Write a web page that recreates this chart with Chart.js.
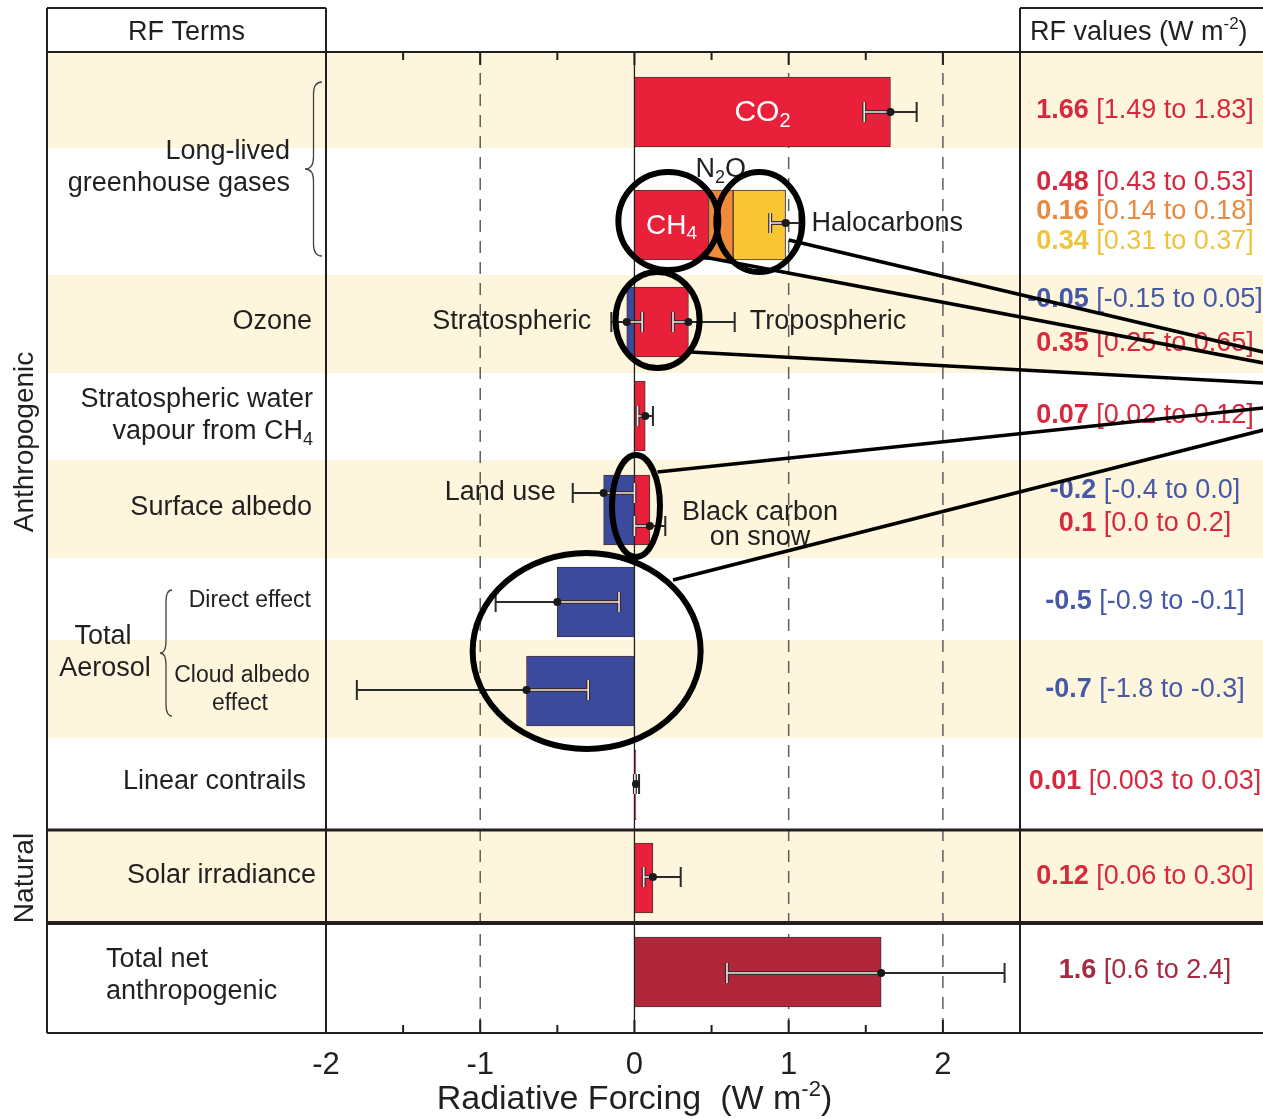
<!DOCTYPE html>
<html lang="en">
<head>
  <meta charset="UTF-8" />
  <title>Radiative Forcing Components</title>
  <script src="https://cdn.jsdelivr.net/npm/chart.js"></script>
  <style>
    body { margin: 0; padding: 0; background: #ffffff; overflow: hidden; }
    canvas { display: block; }
  </style>
</head>
<body>
  <canvas id="rfChart" width="1263" height="1119"></canvas>

  <script>
    const FF = "'Liberation Sans', Arial, Helvetica, sans-serif";
    const INK = '#231f20';

    // bars (row positions are in plot rows, 1 unit = 10px of the 981px plot)
    const barTerms = ['CO2', 'CH4', 'N2O', 'Halocarbons', 'Stratospheric ozone', 'Tropospheric ozone',
      'Stratospheric water vapour', 'Land use', 'Black carbon on snow', 'Direct effect',
      'Cloud albedo effect', 'Linear contrails', 'Solar irradiance', 'Total net anthropogenic'];
    const barRow   = [6.0, 17.3, 17.3, 17.3, 27.0, 27.0, 36.4, 45.8, 45.8, 55.0, 63.9, 73.3, 82.6, 92.0];
    const barBase  = [0, 0, 0.48, 0.64, 0, 0, 0, 0, 0, 0, 0, 0, 0, 0];
    const barValue = [1.66, 0.48, 0.16, 0.34, -0.05, 0.35, 0.07, -0.2, 0.1, -0.5, -0.7, 0.01, 0.12, 1.6];
    const barColor = ['#e8203a', '#e8203a', '#f08a3b', '#f8c533', '#3c4a9e', '#e8203a', '#e8203a',
      '#3c4a9e', '#e8203a', '#3c4a9e', '#3c4a9e', '#e8203a', '#e8203a', '#b0263a'];

    // uncertainty ranges
    const errRow  = [6.0, 17.1, 27.0, 27.0, 36.4, 44.1, 47.4, 55.0, 63.8, 73.2, 82.5, 92.1];
    const errMid  = [1.66, 0.98, -0.05, 0.35, 0.07, -0.2, 0.1, -0.5, -0.7, 0.01, 0.12, 1.6];
    const errLow  = [1.49, 0.88, -0.15, 0.25, 0.02, -0.4, 0.0, -0.9, -1.8, 0.003, 0.06, 0.6];
    const errHigh = [1.83, 1.07, 0.05, 0.65, 0.12, 0.0, 0.2, -0.1, -0.3, 0.03, 0.30, 2.4];

    // RF values column
    const rfValue = ['1.66', '0.48', '0.16', '0.34', '-0.05', '0.35', '0.07', '-0.2', '0.1', '-0.5', '-0.7', '0.01', '0.12', '1.6'];
    const rfRange = ['[1.49 to 1.83]', '[0.43 to 0.53]', '[0.14 to 0.18]', '[0.31 to 0.37]', '[-0.15 to 0.05]',
      '[0.25 to 0.65]', '[0.02 to 0.12]', '[-0.4 to 0.0]', '[0.0 to 0.2]', '[-0.9 to -0.1]', '[-1.8 to -0.3]',
      '[0.003 to 0.03]', '[0.06 to 0.30]', '[0.6 to 2.4]'];
    const rfRow   = [5.9, 13.1, 16.0, 19.0, 24.8, 29.2, 36.4, 43.9, 47.2, 55.0, 63.8, 73.0, 82.5, 91.9];
    const rfColor = ['#d8283e', '#d8283e', '#e8893f', '#eec43a', '#4759a6', '#d8283e', '#d8283e',
      '#4759a6', '#d8283e', '#4759a6', '#4759a6', '#d8283e', '#d8283e', '#a62a40'];

    const beigeBands = [[0, 9.6], [22.3, 32.1], [40.8, 50.6], [58.8, 68.6], [77.8, 87.1]];
    const sectionLines = [77.8, 87.1];

    // hand-drawn highlight circles and pointer lines
    const circles = [
      { x: 0.22, y: 16.9, rx: 50, ry: 49 },
      { x: 0.81, y: 17.0, rx: 43, ry: 50 },
      { x: 0.15, y: 26.8, rx: 42, ry: 48 },
      { x: 0.01, y: 45.4, rx: 24, ry: 51 },
      { x: -0.31, y: 59.9, rx: 114, ry: 98 }
    ];
    const pointers = [
      [1.0, 18.8, 4.08, 30.0],
      [0.45, 20.5, 4.08, 31.1],
      [0.36, 30.0, 4.08, 33.1],
      [0.15, 42.0, 4.08, 35.6],
      [0.25, 52.8, 4.08, 37.8]
    ];

    function rich(ctx, parts, x, y, align) {
      let w = 0;
      parts.forEach(p => {
        ctx.font = (p.weight || 'normal') + ' ' + p.size + 'px ' + FF;
        p.w = ctx.measureText(p.t).width;
        w += p.w;
      });
      let cx = align === 'center' ? x - w / 2 : align === 'right' ? x - w : x;
      ctx.textAlign = 'left';
      ctx.textBaseline = 'middle';
      parts.forEach(p => {
        ctx.font = (p.weight || 'normal') + ' ' + p.size + 'px ' + FF;
        ctx.fillStyle = p.color || INK;
        ctx.fillText(p.t, cx, y + (p.dy || 0));
        cx += p.w;
      });
    }

    function text(ctx, t, x, y, align, size) {
      rich(ctx, [{ t: t, size: size || 27 }], x, y, align);
    }

    function brace(ctx, x, y1, y2, w) {
      const ym = (y1 + y2) / 2, m = x + w / 2, r = Math.min(w, 12);
      ctx.beginPath();
      ctx.moveTo(x + w, y1);
      ctx.quadraticCurveTo(m, y1, m, y1 + r);
      ctx.lineTo(m, ym - r);
      ctx.quadraticCurveTo(m, ym, x, ym);
      ctx.quadraticCurveTo(m, ym, m, ym + r);
      ctx.lineTo(m, y2 - r);
      ctx.quadraticCurveTo(m, y2, x + w, y2);
      ctx.strokeStyle = '#444';
      ctx.lineWidth = 1.3;
      ctx.stroke();
    }

    const panelPlugin = {
      id: 'panels',
      beforeDraw(chart) {
        const { ctx, scales: { y } } = chart;
        ctx.save();
        ctx.fillStyle = '#ffffff';
        ctx.fillRect(0, 0, chart.width, chart.height);
        ctx.fillStyle = '#fdf6dc';
        beigeBands.forEach(b => {
          const t = y.getPixelForValue(b[0]), btm = y.getPixelForValue(b[1]);
          ctx.fillRect(47, t, chart.width - 47, btm - t);
        });
        ctx.restore();
      },
      beforeDatasetsDraw(chart) {
        const { ctx, chartArea: a, scales: { x } } = chart;
        ctx.save();
        ctx.strokeStyle = '#5e5e5e';
        ctx.lineWidth = 1.5;
        ctx.setLineDash([12, 9]);
        [-1, 1, 2].forEach(v => {
          const px = x.getPixelForValue(v);
          ctx.beginPath();
          ctx.moveTo(px, a.top);
          ctx.lineTo(px, a.bottom);
          ctx.stroke();
        });
        ctx.restore();
      },
      afterDatasetsDraw(chart) {
        const { ctx, chartArea: a, scales: { x, y } } = chart;
        const W = chart.width;
        const bx = v => x.getPixelForValue(v);
        const by = v => y.getPixelForValue(v);
        ctx.save();

        // zero line
        ctx.strokeStyle = INK;
        ctx.lineWidth = 1.3;
        ctx.beginPath();
        ctx.moveTo(bx(0), a.top);
        ctx.lineTo(bx(0), a.bottom);
        ctx.stroke();

        // error bars
        const cap = 10;
        errRow.forEach((row, i) => {
          const py = by(row);
          const lo = errLow[i], hi = errHigh[i];
          const xl = bx(lo), xh = bx(hi), xm = bx(errMid[i]);
          ctx.strokeStyle = '#2a2a2a';
          ctx.lineWidth = 2;
          ctx.beginPath();
          ctx.moveTo(xl, py); ctx.lineTo(xh, py);
          ctx.moveTo(xl, py - cap); ctx.lineTo(xl, py + cap);
          ctx.moveTo(xh, py - cap); ctx.lineTo(xh, py + cap);
          ctx.stroke();
          // the part lying inside a bar is drawn light
          barRow.forEach((br, j) => {
            if (Math.abs(br - row) > 3.4) return;
            const b0 = Math.min(barBase[j], barBase[j] + barValue[j]);
            const b1 = Math.max(barBase[j], barBase[j] + barValue[j]);
            const s = Math.max(lo, b0), e = Math.min(hi, b1);
            if (e <= s) return;
            const ps = bx(s), pe = bx(e);
            const capsIn = [];
            if (lo >= b0 && lo <= b1) capsIn.push(xl);
            if (hi >= b0 && hi <= b1) capsIn.push(xh);
            [['#3a2a2a', 4], ['#f4e6e6', 1.6]].forEach(st => {
              ctx.strokeStyle = st[0];
              ctx.lineWidth = st[1];
              ctx.beginPath();
              ctx.moveTo(ps, py); ctx.lineTo(pe, py);
              capsIn.forEach(cx => { ctx.moveTo(cx, py - cap); ctx.lineTo(cx, py + cap); });
              ctx.stroke();
            });
          });
          ctx.fillStyle = '#1a1a1a';
          ctx.beginPath();
          ctx.arc(xm, py, 4, 0, Math.PI * 2);
          ctx.fill();
        });

        // labels inside the plot
        rich(ctx, [{ t: 'CO', size: 30, color: '#fff' }, { t: '2', size: 20, color: '#fff', dy: 8 }],
          bx(barValue[0] / 2), by(barRow[0]) + 1, 'center');
        rich(ctx, [{ t: 'CH', size: 28, color: '#fff' }, { t: '4', size: 19, color: '#fff', dy: 8 }],
          bx(barValue[1] / 2), by(barRow[1]) + 1, 'center');
        rich(ctx, [{ t: 'N', size: 27 }, { t: '2', size: 18, dy: 8 }, { t: 'O', size: 27 }],
          bx(barBase[2] + barValue[2] / 2), by(barRow[2]) - 55, 'center');
        text(ctx, 'Halocarbons', bx(errHigh[1]) + 12, by(barRow[3]) - 1, 'left');
        text(ctx, 'Stratospheric', bx(errLow[2]) - 20, by(errRow[2]), 'right');
        text(ctx, 'Tropospheric', bx(errHigh[3]) + 15, by(errRow[3]), 'left');
        text(ctx, 'Land use', bx(errLow[5]) - 17, by(errRow[5]), 'right');
        text(ctx, 'Black carbon', 760, by(barRow[8]) + 3, 'center');
        text(ctx, 'on snow', 760, by(barRow[8]) + 28, 'center');

        // inward axis ticks top and bottom
        ctx.strokeStyle = INK;
        ctx.lineWidth = 2;
        x.ticks.forEach(t => {
          if (t.value <= -2 || t.value >= 2.5) return;
          const px = bx(t.value);
          const len = Number.isInteger(t.value) ? 13 : 8;
          ctx.beginPath();
          ctx.moveTo(px, a.top); ctx.lineTo(px, a.top + len);
          ctx.moveTo(px, a.bottom); ctx.lineTo(px, a.bottom - len);
          ctx.stroke();
        });

        // frame
        ctx.strokeStyle = INK;
        ctx.lineWidth = 2;
        ctx.beginPath();
        ctx.moveTo(47, 8); ctx.lineTo(a.left, 8);
        ctx.moveTo(a.right, 8); ctx.lineTo(W, 8);
        ctx.moveTo(47, 8); ctx.lineTo(47, a.bottom);
        ctx.moveTo(a.left, 8); ctx.lineTo(a.left, a.bottom);
        ctx.moveTo(a.right, 8); ctx.lineTo(a.right, a.bottom);
        ctx.moveTo(47, a.top); ctx.lineTo(W, a.top);
        ctx.moveTo(47, a.bottom); ctx.lineTo(W, a.bottom);
        ctx.stroke();
        sectionLines.forEach((r, i) => {
          ctx.lineWidth = i === 0 ? 3 : 4;
          ctx.beginPath();
          ctx.moveTo(47, by(r)); ctx.lineTo(W, by(r));
          ctx.stroke();
        });

        // headers
        text(ctx, 'RF Terms', (47 + a.left) / 2, 33, 'center');
        rich(ctx, [{ t: 'RF values (W m', size: 27 }, { t: '-2', size: 17, dy: -9 }, { t: ')', size: 27 }], 1030, 33, 'left');

        // left column
        text(ctx, 'Long-lived', 290, 152, 'right');
        text(ctx, 'greenhouse gases', 290, 184, 'right');
        brace(ctx, 305, 82, 256, 17);
        text(ctx, 'Ozone', 312, by(barRow[4]), 'right');
        text(ctx, 'Stratospheric water', 313, 400, 'right');
        rich(ctx, [{ t: 'vapour from CH', size: 27 }, { t: '4', size: 18, dy: 8 }], 313, 432, 'right');
        text(ctx, 'Surface albedo', 312, by(barRow[7]) - 2, 'right');
        text(ctx, 'Total', 103, 637, 'center');
        text(ctx, 'Aerosol', 105, 669, 'center');
        brace(ctx, 160, 590, 716, 12);
        text(ctx, 'Direct effect', 311, by(barRow[9]) - 1, 'right', 23);
        text(ctx, 'Cloud albedo', 242, 676, 'center', 23);
        text(ctx, 'effect', 240, 704, 'center', 23);
        text(ctx, 'Linear contrails', 306, 782, 'right');
        text(ctx, 'Solar irradiance', 316, by(barRow[12]) - 2, 'right');
        text(ctx, 'Total net', 106, 960, 'left');
        text(ctx, 'anthropogenic', 106, 992, 'left');

        // group labels outside the frame
        ctx.save();
        ctx.translate(25, 442);
        ctx.rotate(-Math.PI / 2);
        text(ctx, 'Anthropogenic', 0, 0, 'center', 28);
        ctx.restore();
        ctx.save();
        ctx.translate(25, 878);
        ctx.rotate(-Math.PI / 2);
        text(ctx, 'Natural', 0, 0, 'center', 28);
        ctx.restore();

        // RF values column
        rfValue.forEach((v, i) => {
          rich(ctx, [
            { t: v, size: 27, weight: 'bold', color: rfColor[i] },
            { t: ' ' + rfRange[i], size: 27, color: rfColor[i] }
          ], 1145, by(rfRow[i]), 'center');
        });

        // axis title
        rich(ctx, [{ t: 'Radiative Forcing  (W m', size: 34 }, { t: '-2', size: 22, dy: -10 }, { t: ')', size: 34 }],
          bx(0), 1100, 'center');

        // highlight circles and pointers
        ctx.strokeStyle = '#000';
        ctx.lineWidth = 6;
        circles.forEach(c => {
          ctx.beginPath();
          ctx.ellipse(bx(c.x), by(c.y), c.rx, c.ry, 0, 0, Math.PI * 2);
          ctx.stroke();
        });
        ctx.lineWidth = 3.5;
        pointers.forEach(p => {
          ctx.beginPath();
          ctx.moveTo(bx(p[0]), by(p[1]));
          ctx.lineTo(bx(p[2]), by(p[3]));
          ctx.stroke();
        });

        ctx.restore();
      }
    };

    new Chart(document.getElementById('rfChart').getContext('2d'), {
      type: 'bar',
      data: {
        labels: barTerms,
        datasets: [{
          label: 'Radiative forcing',
          data: barTerms.map((t, i) => ({ x: [barBase[i], barBase[i] + barValue[i]], y: barRow[i] })),
          backgroundColor: barColor,
          borderColor: '#4a3434',
          borderWidth: 1,
          borderSkipped: false,
          barThickness: 70
        }]
      },
      options: {
        indexAxis: 'y',
        responsive: false,
        animation: false,
        events: [],
        layout: { padding: { left: 326, right: 243, top: 52, bottom: 0 } },
        plugins: { legend: { display: false }, tooltip: { enabled: false } },
        scales: {
          x: {
            type: 'linear',
            min: -2,
            max: 2.5,
            afterFit: s => { s.height = 86; },
            grid: { display: false, drawTicks: false },
            border: { display: false },
            ticks: {
              stepSize: 0.5,
              autoSkip: false,
              maxRotation: 0,
              padding: 14,
              color: INK,
              font: { family: FF, size: 31 },
              callback: v => (Number.isInteger(v) && v <= 2 ? String(v) : '')
            }
          },
          y: {
            type: 'linear',
            min: 0,
            max: 98.1,
            reverse: true,
            offset: false,
            display: false
          }
        }
      },
      plugins: [panelPlugin]
    });
  </script>
</body>
</html>
